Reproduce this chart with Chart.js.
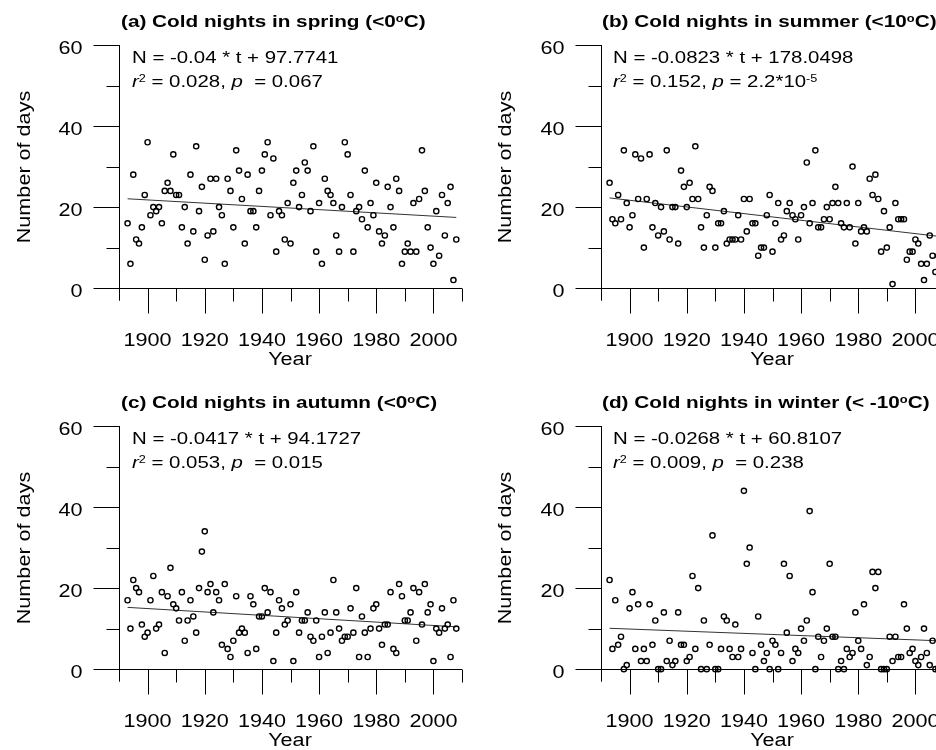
<!DOCTYPE html>
<html><head><meta charset="utf-8">
<script src="https://cdn.jsdelivr.net/npm/chart.js@4.4.1/dist/chart.umd.min.js"></script>
<style>
html,body{margin:0;padding:0;background:#fff;}
#wrap{position:relative;width:936px;height:750px;overflow:hidden;background:#fff;font-family:"Liberation Sans",Arial,sans-serif;color:#000;}
canvas{position:absolute;}
.t{position:absolute;white-space:nowrap;transform-origin:0 0;transform:scaleX(1.2);line-height:1;}
.title{font-weight:bold;font-size:17px;transform:scaleX(1.22);}
.eq{font-size:17px;}
.xlab{font-size:18px;width:200px;text-align:center;transform-origin:50% 0;}
.ylab{font-size:18px;width:200px;height:18px;text-align:center;transform-origin:50% 50%;transform:rotate(-90deg) scaleX(1.2);}
sup{font-size:62%;line-height:0;position:relative;top:-0.5em;vertical-align:baseline;}
</style></head>
<body>
<div id="wrap">
<canvas id="ca" width="470" height="381" style="left:0px;top:0px"></canvas>
<canvas id="cb" width="470" height="381" style="left:482px;top:0px"></canvas>
<canvas id="cc" width="470" height="381" style="left:0px;top:381px"></canvas>
<canvas id="cd" width="470" height="381" style="left:482px;top:381px"></canvas>

<div class="t title" style="left:121px;top:13px">(a) Cold nights in spring (&lt;0<sup>o</sup>C)</div>
<div class="t eq" style="left:132px;top:49px">N = -0.04 * t + 97.7741</div>
<div class="t eq" style="left:132px;top:73px"><i>r</i><sup>2</sup> = 0.028, <i>p</i>&nbsp; = 0.067</div>

<div class="t title" style="left:602px;top:13px">(b) Cold nights in summer (&lt;10<sup>o</sup>C)</div>
<div class="t eq" style="left:613px;top:49px">N = -0.0823 * t + 178.0498</div>
<div class="t eq" style="left:613px;top:73px"><i>r</i><sup>2</sup> = 0.152, <i>p</i> = 2.2*10<sup>-5</sup></div>

<div class="t title" style="left:121px;top:394px">(c) Cold nights in autumn (&lt;0<sup>o</sup>C)</div>
<div class="t eq" style="left:132px;top:430px">N = -0.0417 * t + 94.1727</div>
<div class="t eq" style="left:132px;top:454px"><i>r</i><sup>2</sup> = 0.053, <i>p</i>&nbsp; = 0.015</div>

<div class="t title" style="left:602px;top:394px">(d) Cold nights in winter (&lt; -10<sup>o</sup>C)</div>
<div class="t eq" style="left:613px;top:430px">N = -0.0268 * t + 60.8107</div>
<div class="t eq" style="left:613px;top:454px"><i>r</i><sup>2</sup> = 0.009, <i>p</i>&nbsp; = 0.238</div>

<div class="t ylab" style="left:-76px;top:158px">Number of days</div>
<div class="t ylab" style="left:405px;top:158px">Number of days</div>
<div class="t ylab" style="left:-76px;top:539px">Number of days</div>
<div class="t ylab" style="left:405px;top:539px">Number of days</div>

<div class="t xlab" style="left:190px;top:350px">Year</div>
<div class="t xlab" style="left:672px;top:350px">Year</div>
<div class="t xlab" style="left:190px;top:731px">Year</div>
<div class="t xlab" style="left:672px;top:731px">Year</div>
</div>

<script>
// ---- data ----
const firstYear = 1893;
const springDays = [
  16, 6, 28, 12, 11, 15, 23, 36, 18, 20,
  19, 20, 16, 24, 26, 24, 33, 23, 23, 15,
  20, 11, 28, 14, 35, 19, 25, 7, 13, 27,
  14, 27, 20, 18, 6, 27, 24, 15, 34, 29,
  22, 11, 28, 19, 19, 15, 24, 29, 33, 36,
  18, 32, 9, 19, 18, 12, 21, 11, 26, 29,
  20, 23, 31, 29, 19, 35, 9, 21, 6, 27,
  24, 23, 21, 13, 9, 20, 36, 33, 23, 9,
  19, 20, 17, 29, 15, 21, 18, 26, 14, 11,
  13, 25, 20, 15, 27, 24, 6, 9, 11, 9,
  21, 9, 22, 34, 24, 15, 10, 6, 19, 8,
  23, 13, 21, 25, 2, 12];
const summerDays = [
  26, 17, 16, 23, 17, 34, 21, 15, 18, 33,
  22, 32, 10, 22, 33, 15, 21, 13, 20, 14,
  34, 12, 20, 20, 11, 29, 25, 20, 26, 22,
  35, 22, 15, 10, 18, 25, 24, 10, 16, 16,
  19, 11, 12, 12, 12, 18, 12, 22, 14, 22,
  16, 16, 8, 10, 10, 18, 23, 9, 16, 21,
  12, 13, 19, 21, 18, 17, 12, 18, 20, 31,
  16, 21, 34, 15, 15, 17, 20, 17, 21, 25,
  21, 16, 15, 21, 15, 30, 11, 21, 14, 15,
  14, 27, 23, 28, 22, 9, 19, 10, 15, 1,
  21, 17, 17, 17, 7, 9, 9, 12, 11, 6,
  2, 6, 13, 8, 4, 8];
const autumnDays = [
  17, 10, 22, 20, 19, 11, 8, 9, 17, 23,
  10, 11, 19, 4, 18, 25, 16, 15, 12, 19,
  7, 12, 17, 13, 9, 20, 29, 34, 19, 21,
  14, 19, 17, 6, 21, 5, 3, 7, 18, 9,
  10, 9, 4, 18, 16, 5, 13, 13, 20, 14,
  19, 2, 9, 17, 15, 11, 12, 16, 2, 19,
  9, 12, 12, 14, 8, 7, 12, 3, 8, 14,
  4, 9, 22, 14, 10, 7, 8, 8, 15, 9,
  20, 3, 13, 9, 3, 10, 15, 16, 10, 6,
  11, 11, 19, 5, 4, 21, 18, 12, 12, 14,
  20, 7, 19, 11, 21, 14, 16, 2, 10, 9,
  15, 10, 11, 3, 17, 10];
const winterDays = [
  22, 5, 17, 6, 8, 0, 1, 15, 19, 5,
  16, 2, 5, 2, 16, 6, 12, 0, 0, 14,
  2, 7, 1, 2, 14, 6, 6, 2, 3, 23,
  5, 20, 0, 12, 0, 6, 33, 0, 0, 5,
  13, 12, 5, 3, 11, 3, 5, 44, 26, 30,
  4, 0, 13, 6, 2, 4, 0, 7, 6, 0,
  4, 26, 9, 23, 2, 5, 4, 10, 7, 12,
  39, 19, 0, 8, 3, 7, 10, 26, 8, 8,
  0, 2, 0, 5, 3, 4, 14, 7, 5, 16,
  1, 3, 24, 20, 24, 0, 0, 0, 8, 2,
  8, 3, 3, 16, 10, 4, 5, 2, 1, 3,
  10, 4, 1, 7, 0, 0];
// regression lines: values at the first and last year
const trendYears = [1893, 2008];
const springTrend = [22.05, 17.45];
const summerTrend = [22.26, 12.79];
const autumnTrend = [15.24, 10.44];
const winterTrend = [10.08, 7.00];
// axis ticks
const xTickLabels = [1900, 1920, 1940, 1960, 1980, 2000];
const xTickValues = [1900, 1910, 1920, 1930, 1940, 1950, 1960, 1970, 1980, 1990, 2000, 2010];
const yTickLabels = [0, 20, 40, 60];
const yTickValues = [10, 20, 30, 40, 50, 60];

const years = springDays.map((_, i) => firstYear + i);

const STRETCH = 1.2;
const FONT = '18px "Liberation Sans", Arial, sans-serif';

const axesPlugin = {
  id: 'axesPlugin',
  beforeDatasetsDraw(chart) {
    const {ctx} = chart;
    const xs = chart.scales.x, ys = chart.scales.y;
    const snap = p => Math.round(p) + 0.5;
    const x0 = snap(xs.getPixelForValue(1890));
    const y0 = snap(ys.getPixelForValue(0));
    const yTop = ys.getPixelForValue(60);
    const yBot = ys.getPixelForValue(ys.min);
    const xEnd = xs.getPixelForValue(2010);
    ctx.save();
    ctx.strokeStyle = '#000';
    ctx.lineWidth = 1;
    ctx.beginPath();
    ctx.moveTo(x0, yTop); ctx.lineTo(x0, yBot);
    ctx.moveTo(x0 - 26, y0); ctx.lineTo(xEnd, y0);
    yTickValues.forEach(v => {
      const py = snap(ys.getPixelForValue(v));
      const len = yTickLabels.includes(v) ? 26 : 13;
      ctx.moveTo(x0 - len, py); ctx.lineTo(x0, py);
    });
    xTickValues.forEach(v => {
      const px = snap(xs.getPixelForValue(v));
      const len = xTickLabels.includes(v) ? 25 : 13;
      ctx.moveTo(px, y0); ctx.lineTo(px, y0 + len);
    });
    ctx.stroke();
    ctx.fillStyle = '#000';
    ctx.font = FONT;
    ctx.textBaseline = 'alphabetic';
    xTickLabels.forEach(v => {
      ctx.save();
      ctx.translate(xs.getPixelForValue(v), y0 + 57);
      ctx.scale(STRETCH, 1);
      ctx.textAlign = 'center';
      ctx.fillText(String(v), 0, 0);
      ctx.restore();
    });
    yTickLabels.forEach(v => {
      ctx.save();
      ctx.translate(x0 - 37, ys.getPixelForValue(v) + 8.5);
      ctx.scale(STRETCH, 1);
      ctx.textAlign = 'right';
      ctx.fillText(String(v), 0, 0);
      ctx.restore();
    });
    ctx.restore();
  }
};

function makeChart(id, values, trend) {
  return new Chart(document.getElementById(id), {
    type: 'scatter',
    data: {
      datasets: [
        {
          type: 'line',
          data: trendYears.map((t, i) => ({x: t, y: trend[i]})),
          borderColor: '#333',
          borderWidth: 1,
          pointRadius: 0,
          fill: false,
          order: 1
        },
        {
          data: years.map((t, i) => ({x: t, y: values[i]})),
          pointRadius: 2.6,
          pointBorderWidth: 1.4,
          pointBorderColor: '#000',
          pointBackgroundColor: 'rgba(0,0,0,0)',
          showLine: false,
          order: 0
        }
      ]
    },
    options: {
      responsive: false,
      animation: false,
      devicePixelRatio: 1,
      layout: {padding: {left: 119, right: 8, top: 45, bottom: 80.3}},
      scales: {
        x: {type: 'linear', min: 1890, max: 2010, display: false},
        y: {type: 'linear', min: -3.1, max: 60, display: false}
      },
      plugins: {legend: {display: false}, tooltip: {enabled: false}, title: {display: false}},
      clip: false
    },
    plugins: [axesPlugin]
  });
}

makeChart('ca', springDays, springTrend);
makeChart('cb', summerDays, summerTrend);
makeChart('cc', autumnDays, autumnTrend);
makeChart('cd', winterDays, winterTrend);
</script>
</body></html>
